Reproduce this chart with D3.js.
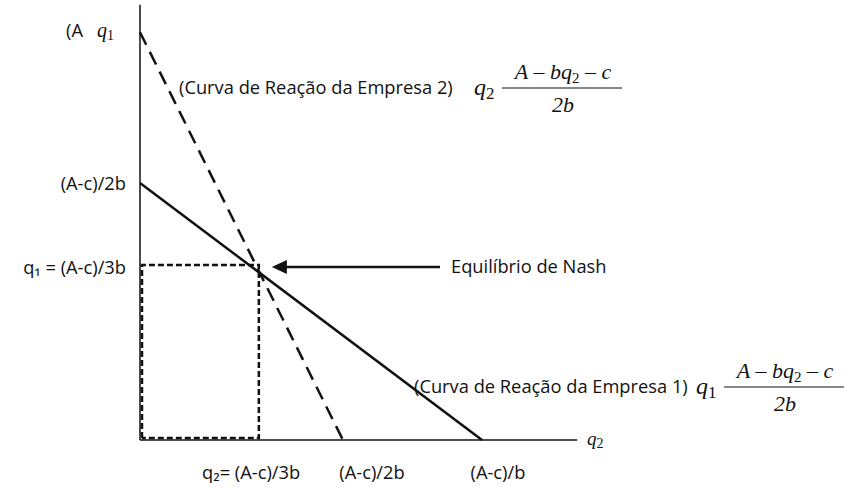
<!DOCTYPE html>
<html>
<head>
<meta charset="utf-8">
<script src="https://cdn.jsdelivr.net/npm/d3@7"></script>
<style>
  body { margin: 0; background: #fff; }
  text { font-family: "Open Sans", "Lato", sans-serif; fill: #111; }
  .math { font-family: "Liberation Serif", "DejaVu Serif", serif; font-style: italic; }
</style>
</head>
<body>
<div id="chart"></div>
<script>
// reaction curves, in units of (A-c)/6b roughly
const reaction1 = [[0, 3.0], [6.0, 0]];      // solid, firm 1
const reaction2 = [[0, 4.76], [3.56, 0]];    // dashed, firm 2
const nash = [2.05, 2.02];
const axisMax = [7.67, 5.08];

const yTickValues = [3.0, 2.02];
const yTickLabels = ["(A-c)/2b", "q₁ = (A-c)/3b"];
const xTickValues = [1.95, 4.07, 6.28];
const xTickLabels = ["q₂= (A-c)/3b", "(A-c)/2b", "(A-c)/b"];

const fontSize = "18.3px";

const svg = d3.select("#chart").append("svg")
    .attr("width", 850)
    .attr("height", 488);

const x = d3.scaleLinear().domain([0, 6]).range([140, 482]);
const y = d3.scaleLinear().domain([0, 3]).range([440, 183]);

const line = d3.line().x(d => x(d[0])).y(d => y(d[1]));

// axes
svg.append("line")
    .attr("x1", x(0)).attr("y1", y(0))
    .attr("x2", x(0)).attr("y2", y(axisMax[1]))
    .attr("stroke", "#111").attr("stroke-width", 1.5);
svg.append("line")
    .attr("x1", x(0)).attr("y1", y(0))
    .attr("x2", x(axisMax[0])).attr("y2", y(0))
    .attr("stroke", "#111").attr("stroke-width", 1.5);

// dotted box to the equilibrium
const box = [[0, 0], [0, nash[1]], [nash[0], nash[1]], [nash[0], 0], [0, 0]];
svg.append("path")
    .attr("d", line(box))
    .attr("transform", "translate(2,-2)")
    .attr("fill", "none")
    .attr("stroke", "#111")
    .attr("stroke-width", 2.5)
    .attr("stroke-dasharray", "6,3");

// reaction curves
svg.append("path")
    .attr("d", line(reaction2))
    .attr("fill", "none")
    .attr("stroke", "#111")
    .attr("stroke-width", 2.5)
    .attr("stroke-dasharray", "14,8");

svg.append("path")
    .attr("d", line(reaction1))
    .attr("fill", "none")
    .attr("stroke", "#111")
    .attr("stroke-width", 2.5);

// arrow to Nash equilibrium
const tipX = x(nash[0]) + 15, tipY = y(nash[1]);
svg.append("line")
    .attr("x1", 440).attr("y1", tipY)
    .attr("x2", tipX + 12).attr("y2", tipY)
    .attr("stroke", "#111").attr("stroke-width", 2.5);
svg.append("path")
    .attr("d", `M${tipX},${tipY} L${tipX + 15},${tipY - 7} L${tipX + 15},${tipY + 7} Z`)
    .attr("fill", "#111");
svg.append("text")
    .attr("x", 451).attr("y", tipY + 6)
    .style("font-size", fontSize)
    .text("Equilíbrio de Nash");

// y tick labels
svg.selectAll(".ylab")
    .data(yTickValues)
    .enter().append("text")
    .attr("class", "ylab")
    .attr("x", 126)
    .attr("y", d => y(d) + 7)
    .attr("text-anchor", "end")
    .style("font-size", fontSize)
    .text((d, i) => yTickLabels[i]);

// x tick labels
svg.selectAll(".xlab")
    .data(xTickValues)
    .enter().append("text")
    .attr("class", "xlab")
    .attr("x", d => x(d))
    .attr("y", 479)
    .attr("text-anchor", "middle")
    .style("font-size", fontSize)
    .text((d, i) => xTickLabels[i]);

// axis names
svg.append("text").attr("x", 66).attr("y", 37).style("font-size", fontSize).text("(A");
const q1 = svg.append("text").attr("class", "math").attr("x", 97).attr("y", 37).style("font-size", "20px").text("q");
q1.append("tspan").attr("dy", 3).style("font-size", "14px").style("font-style", "normal").text("1");
const q2 = svg.append("text").attr("class", "math").attr("x", 587).attr("y", 445).style("font-size", "19px").text("q");
q2.append("tspan").attr("dy", 3).style("font-size", "14px").style("font-style", "normal").text("2");

// reaction curve labels with formulas
function formula(xs, fx, yb, label, qi, qo) {
    svg.append("text").attr("x", xs).attr("y", yb).style("font-size", fontSize).text(label);
    const q = svg.append("text").attr("class", "math")
        .attr("x", fx).attr("y", yb + 1).style("font-size", "24px").text("q");
    q.append("tspan").attr("dy", 4).style("font-size", "17px").style("font-style", "normal").text(qi);
    const cx = fx + 89;
    svg.append("line")
        .attr("x1", fx + 28).attr("x2", fx + 148)
        .attr("y1", yb - 6).attr("y2", yb - 6)
        .attr("stroke", "#111").attr("stroke-width", 1);
    const num = svg.append("text").attr("class", "math")
        .attr("x", cx).attr("y", yb - 15)
        .attr("text-anchor", "middle").style("font-size", "22px");
    num.append("tspan").text("A");
    num.append("tspan").style("font-style", "normal").text(" – ");
    num.append("tspan").text("bq");
    num.append("tspan").attr("dy", 4).style("font-size", "15px").style("font-style", "normal").text(qo);
    num.append("tspan").attr("dy", -4).style("font-style", "normal").text(" – ");
    num.append("tspan").text("c");
    svg.append("text").attr("class", "math")
        .attr("x", cx).attr("y", yb + 18)
        .attr("text-anchor", "middle").style("font-size", "22px").text("2b");
}
formula(179, 474, 94, "(Curva de Reação da Empresa 2)", "2", "2");
formula(414, 696, 393, "(Curva de Reação da Empresa 1)", "1", "2");
</script>
</body>
</html>
